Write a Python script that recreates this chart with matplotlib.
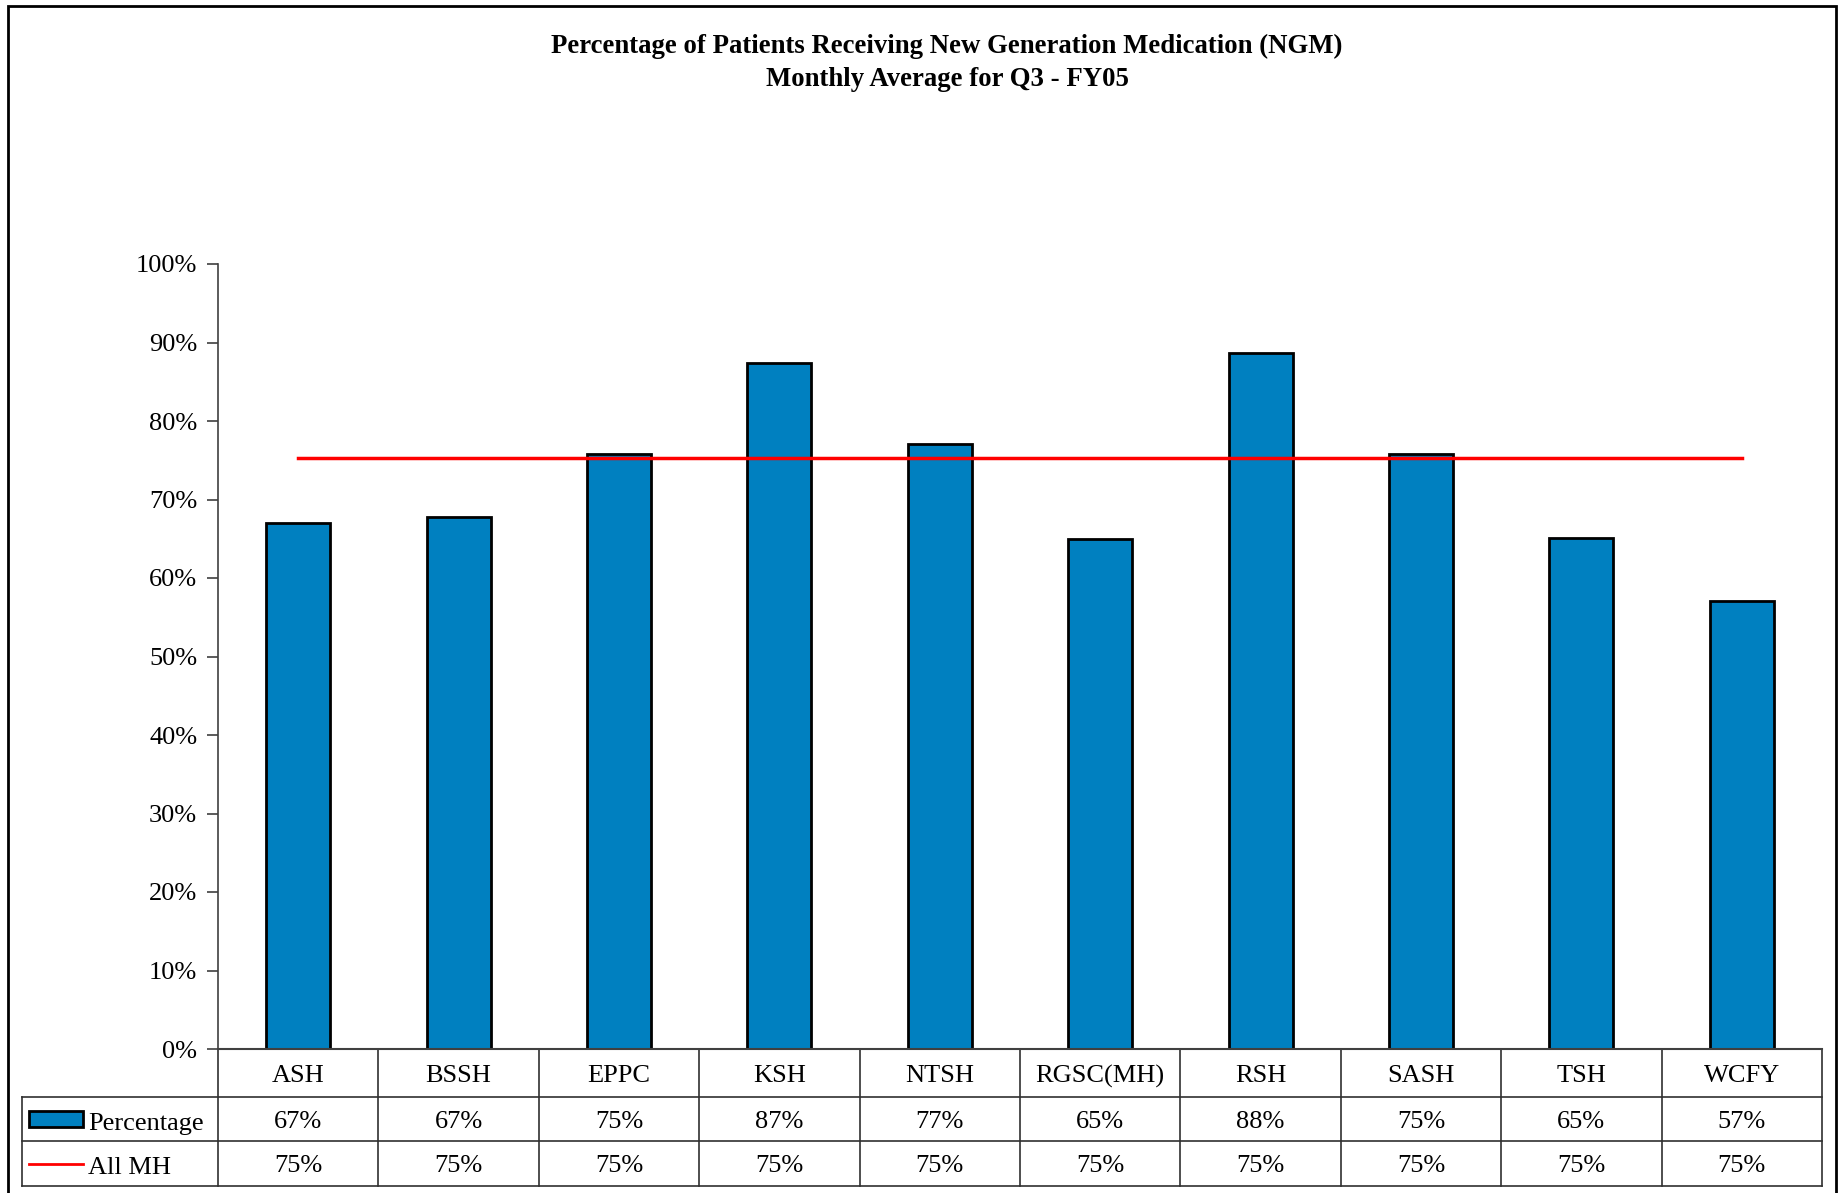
import math
import matplotlib
matplotlib.use('Agg')
import matplotlib.pyplot as plt
from matplotlib.patches import Rectangle
from matplotlib.lines import Line2D
from matplotlib.transforms import blended_transform_factory
from matplotlib.ticker import FuncFormatter

plt.rcParams['font.family'] = ['Liberation Serif', 'DejaVu Serif']

# data
sites = ['ASH', 'BSSH', 'EPPC', 'KSH', 'NTSH', 'RGSC(MH)', 'RSH', 'SASH', 'TSH', 'WCFY']
percentage = [0.670, 0.678, 0.758, 0.874, 0.771, 0.650, 0.887, 0.758, 0.651, 0.571]
all_mh = [0.7535] * 10
series_names = ['Percentage', 'All MH']

bar_color = '#0080C0'

W, H = 1841, 1193
fig = plt.figure(figsize=(W / 100, H / 100), dpi=100)

# axes box in pixels (left, top, right, bottom)
L, T, R, B = 218, 264, 1822, 1049
ax = fig.add_axes([L / W, 1 - B / H, (R - L) / W, (B - T) / H])

x = list(range(len(sites)))
ax.bar(x, percentage, width=0.4, color=bar_color, edgecolor='black', linewidth=2, zorder=2)
ax.plot(x, all_mh, color='red', linewidth=2.5, zorder=3)

ax.set_xlim(-0.5, len(sites) - 0.5)
ax.set_ylim(0, 1)
ax.set_yticks([i / 10 for i in range(11)])
ax.yaxis.set_major_formatter(FuncFormatter(lambda v, p: f'{v * 100:.0f}%'))
ax.tick_params(axis='y', direction='out', length=8, width=1.2, color='#404040',
               labelsize=19, pad=7)
ax.set_xticks([])
for s in ['top', 'right']:
    ax.spines[s].set_visible(False)
ax.spines['left'].set_color('#404040')
ax.spines['left'].set_linewidth(1.2)
ax.spines['bottom'].set_color('#404040')
ax.spines['bottom'].set_linewidth(1.5)

# data table under the plot
tr = blended_transform_factory(ax.transData, ax.transAxes)
ah = B - T
rows = [0, -48 / ah, -92 / ah, -137 / ah]
legend_left = -0.5 - (L - 22) / ((R - L) / len(sites))
right = len(sites) - 0.5
lc = '#303030'
lw = 1.2
fs = 19
dy = -3 / ah  # serif text sits a little low in its cell


def hline(x0, x1, y):
    ax.add_line(Line2D([x0, x1], [y, y], transform=tr, color=lc, lw=lw, clip_on=False))


def vline(xx, y0, y1):
    ax.add_line(Line2D([xx, xx], [y0, y1], transform=tr, color=lc, lw=lw, clip_on=False))


hline(legend_left, right, rows[1])
hline(legend_left, right, rows[2])
hline(legend_left, right, rows[3])
vline(legend_left, rows[1], rows[3])
for i in range(len(sites) + 1):
    vline(i - 0.5, rows[0], rows[3])

for i, s in enumerate(sites):
    ax.text(i, (rows[0] + rows[1]) / 2 + dy, s, transform=tr, ha='center', va='center', fontsize=fs)
    ax.text(i, (rows[1] + rows[2]) / 2 + dy, f'{math.floor(percentage[i] * 100 + 1e-9)}%',
            transform=tr, ha='center', va='center', fontsize=fs)
    ax.text(i, (rows[2] + rows[3]) / 2 + dy, f'{math.floor(all_mh[i] * 100 + 1e-9)}%',
            transform=tr, ha='center', va='center', fontsize=fs)

# legend keys inside the table
px = (R - L) / len(sites)
sw0 = legend_left + 7 / px
sw1 = legend_left + 61 / px
ym1 = (rows[1] + rows[2]) / 2
ax.add_patch(Rectangle((sw0, ym1 - 8 / ah), sw1 - sw0, 16 / ah, transform=tr,
                       facecolor=bar_color, edgecolor='black', lw=2, clip_on=False))
ax.text(sw1 + 5 / px, ym1 - 5 / ah, series_names[0], transform=tr, ha='left', va='center', fontsize=fs)
ym2 = (rows[2] + rows[3]) / 2
ax.add_line(Line2D([sw0, sw1], [ym2, ym2], transform=tr, color='red', lw=2, clip_on=False))
ax.text(sw1 + 5 / px, ym2 - 5 / ah, series_names[1], transform=tr, ha='left', va='center', fontsize=fs)

# title
fig.text(947 / W, 1 - 46 / H, 'Percentage of Patients Receiving New Generation Medication (NGM)',
         ha='center', va='center', fontsize=19.3, fontweight='bold')
fig.text(947 / W, 1 - 80 / H, 'Monthly Average for Q3 - FY05',
         ha='center', va='center', fontsize=19.3, fontweight='bold')

# outer chart border (bottom edge falls outside the image)
fig.add_artist(Rectangle((8 / W, -0.05), (1836 - 8) / W, 1.05 - 6 / H, transform=fig.transFigure,
                         fill=False, edgecolor='black', lw=2))

fig.savefig('out.png', dpi=100)
